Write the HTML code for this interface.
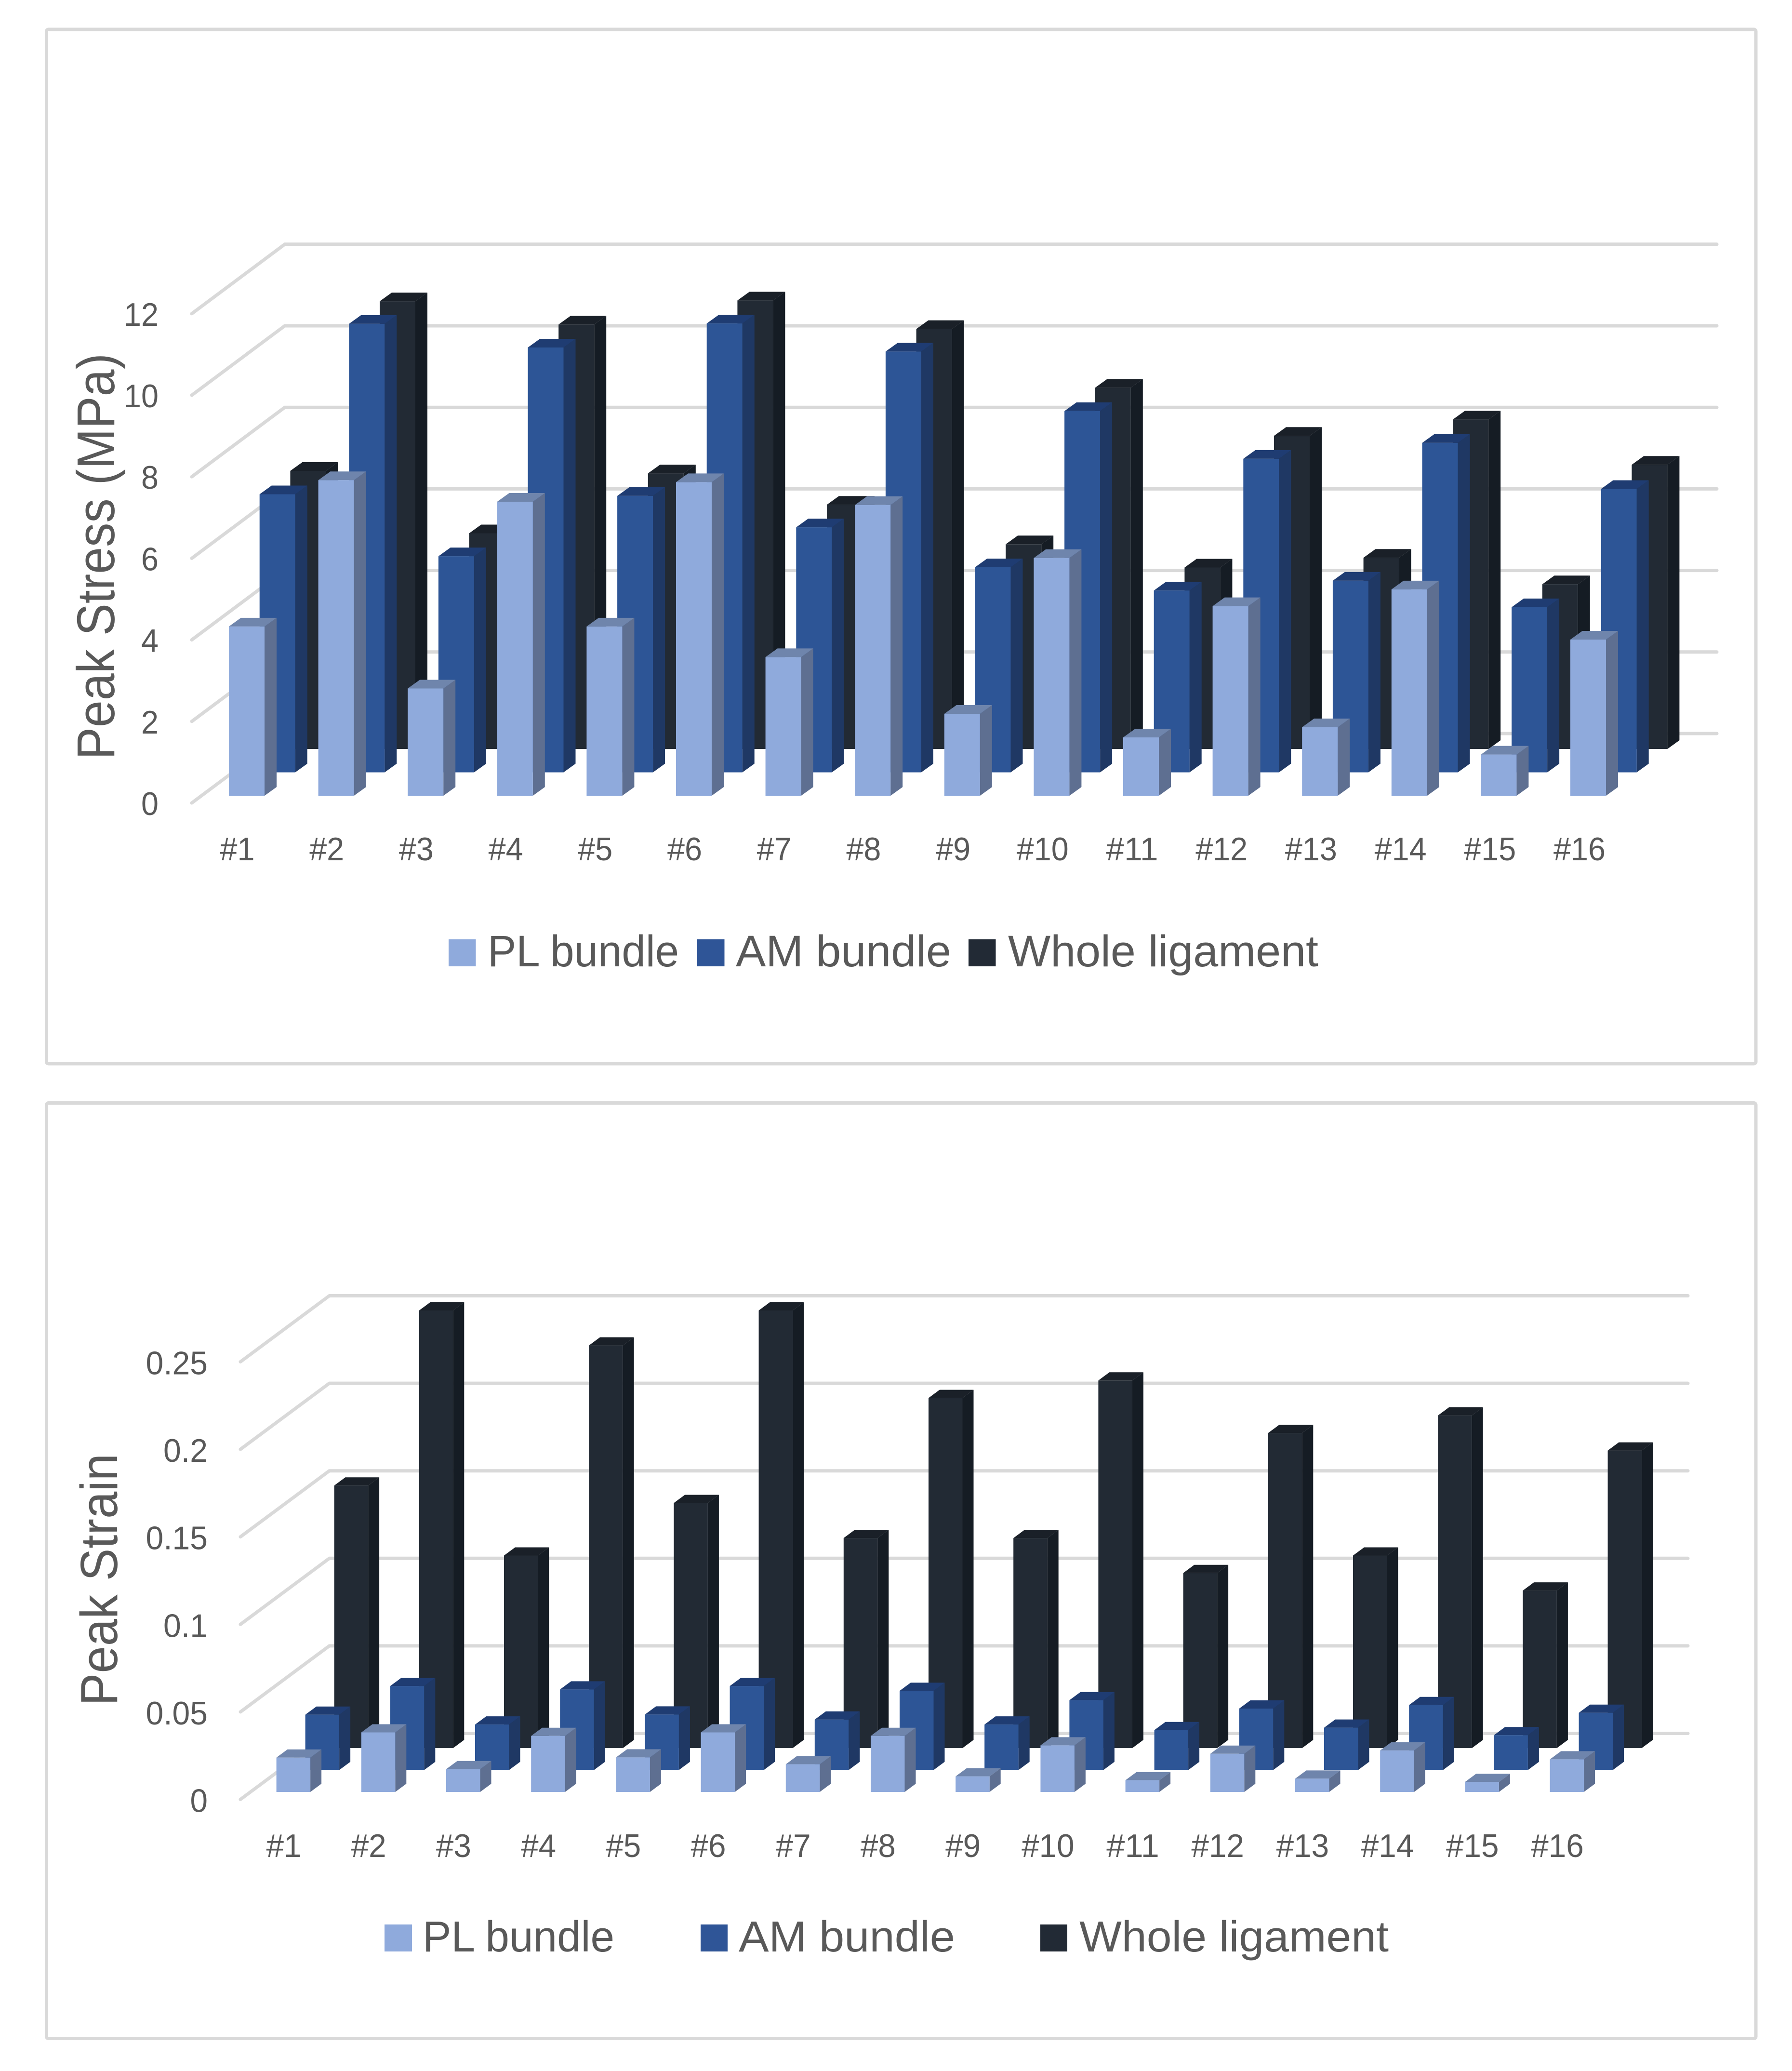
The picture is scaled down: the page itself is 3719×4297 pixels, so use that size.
<!DOCTYPE html>
<html lang="en">
<head>
<meta charset="utf-8">
<title>Peak Stress and Peak Strain by Specimen</title>
<style>
html,body{margin:0;padding:0;background:#ffffff;}
svg{display:block;}
text{font-family:"Liberation Sans",sans-serif;fill:#595959;}
</style>
</head>
<body>
<svg id="figure" xmlns="http://www.w3.org/2000/svg" width="3719" height="4297" viewBox="0 0 3719 4297">
  <rect x="0" y="0" width="3719" height="4297" fill="#ffffff"/>

  <g id="stress-chart">
    <rect x="96.5" y="61" width="3547.5" height="2146" rx="4" fill="#ffffff" stroke="#d9d9d9" stroke-width="7"/>
    <g id="stress-grid"></g>
    <g id="stress-bars"></g>
    <g id="stress-y-labels"></g>
    <g id="stress-x-labels"></g>
    <text transform="translate(237 1576) rotate(-90)" font-size="110" textLength="843" lengthAdjust="spacingAndGlyphs">Peak Stress (MPa)</text>
    <g>
      <g>
        <rect x="931" y="1949" width="56.5" height="56" fill="#8faadc"/>
        <text x="1012" y="2005" font-size="92" textLength="397" lengthAdjust="spacingAndGlyphs">PL bundle</text>
      </g>
      <g>
        <rect x="1447" y="1949" width="56.5" height="56" fill="#2f5597"/>
        <text x="1527" y="2005" font-size="92" textLength="447" lengthAdjust="spacingAndGlyphs">AM bundle</text>
      </g>
      <g>
        <rect x="2010" y="1949" width="56.5" height="56" fill="#222a35"/>
        <text x="2092" y="2005" font-size="92" textLength="644" lengthAdjust="spacingAndGlyphs">Whole ligament</text>
      </g>
    </g>
  </g>

  <g id="strain-chart">
    <rect x="96.5" y="2288.5" width="3547.5" height="1941" rx="4" fill="#ffffff" stroke="#d9d9d9" stroke-width="7"/>
    <g id="strain-grid"></g>
    <g id="strain-bars"></g>
    <g id="strain-y-labels"></g>
    <g id="strain-x-labels"></g>
    <text transform="translate(243 3539) rotate(-90)" font-size="109" textLength="523" lengthAdjust="spacingAndGlyphs">Peak Strain</text>
    <g>
      <g>
        <rect x="798" y="3993" width="57" height="56" fill="#8faadc"/>
        <text x="877" y="4049" font-size="90" textLength="398" lengthAdjust="spacingAndGlyphs">PL bundle</text>
      </g>
      <g>
        <rect x="1454" y="3993" width="56" height="56" fill="#2f5597"/>
        <text x="1533" y="4049" font-size="90" textLength="449" lengthAdjust="spacingAndGlyphs">AM bundle</text>
      </g>
      <g>
        <rect x="2159" y="3993" width="56" height="56" fill="#222a35"/>
        <text x="2240" y="4049" font-size="90" textLength="642" lengthAdjust="spacingAndGlyphs">Whole ligament</text>
      </g>
    </g>
  </g>
</svg>

<script>
// ---- Data ----
const categories = ['#1','#2','#3','#4','#5','#6','#7','#8','#9','#10','#11','#12','#13','#14','#15','#16'];

const stressTicks = [0, 2, 4, 6, 8, 10, 12];
const stressTickLabels = ['0', '2', '4', '6', '8', '10', '12'];
const stressPL = [4.15, 7.74, 2.63, 7.21, 4.15, 7.69, 3.40, 7.13, 2.01, 5.83, 1.43, 4.65, 1.68, 5.06, 1.01, 3.83];
const stressAM = [6.82, 11.00, 5.30, 10.42, 6.78, 11.01, 6.01, 10.32, 5.03, 8.86, 4.46, 7.69, 4.70, 8.08, 4.05, 6.95];
const stressWhole = [6.82, 10.98, 5.29, 10.41, 6.76, 11.00, 5.99, 10.30, 5.02, 8.86, 4.45, 7.68, 4.69, 8.08, 4.04, 6.97];

const strainTicks = [0, 0.05, 0.1, 0.15, 0.2, 0.25];
const strainTickLabels = ['0', '0.05', '0.1', '0.15', '0.2', '0.25'];
const strainPL = [0.0196, 0.034, 0.013, 0.032, 0.0197, 0.034, 0.0158, 0.032, 0.0089, 0.0266, 0.0067, 0.0218, 0.0076, 0.0237, 0.0057, 0.0186];
const strainAM = [0.0316, 0.048, 0.026, 0.046, 0.0317, 0.048, 0.0288, 0.0452, 0.026, 0.0399, 0.0228, 0.0351, 0.0242, 0.0371, 0.0199, 0.0327];
const strainWhole = [0.15, 0.25, 0.11, 0.23, 0.14, 0.25, 0.12, 0.20, 0.12, 0.21, 0.10, 0.18, 0.11, 0.19, 0.09, 0.17];

// ---- Rendering ----
const SVG_NS = 'http://www.w3.org/2000/svg';

function svgEl(tag, attrs) {
  const el = document.createElementNS(SVG_NS, tag);
  for (const k in attrs) el.setAttribute(k, attrs[k]);
  return el;
}

function labelWidth(text, unit) {
  let w = 0;
  for (const ch of text) w += (ch === '.') ? unit * 0.52 : unit;
  return w;
}

function pts(list) {
  return list.map(function (p) { return p[0].toFixed(1) + ',' + p[1].toFixed(1); }).join(' ');
}

const seriesStyles = {
  whole: { front: '#222a34', side: '#151c24', top: '#1a2028' },
  am: { front: '#2d5596', side: '#1f3864', top: '#1f3c72' },
  pl: { front: '#8faadc', side: '#5e6f91', top: '#6f85ac' }
};

function drawChart(cfg) {
  // axis functions
  const yFront = function (v) { return cfg.front0 - v * cfg.unit; };
  const barX = function (i, depth) { return cfg.barX0 + i * cfg.step + depth * cfg.seriesDx; };
  const barBase = function (depth) { return cfg.barBase - depth * cfg.seriesDy; };
  const labelX = function (i) { return cfg.labelX0 + i * cfg.labelStep; };

  const grid = document.getElementById(cfg.key + '-grid');
  cfg.ticks.forEach(function (t, k) {
    const yF = yFront(t);
    const xB = cfg.frontX + cfg.backDx;
    const yB = yF - cfg.backDy;
    const line = svgEl('polyline', {
      points: pts([[cfg.frontX, yF], [xB, yB], [cfg.rightX, yB]]),
      fill: 'none', stroke: '#d9d9d9', 'stroke-width': cfg.gridWidth, 'stroke-linecap': 'round', 'stroke-linejoin': 'round'
    });
    
    
    grid.appendChild(line);
  });

  const barsRoot = document.getElementById(cfg.key + '-bars');
  cfg.series.forEach(function (s) {
    const style = seriesStyles[s.id];
    const group = svgEl('g', {});
    
    
    s.values.forEach(function (v, i) {
      const x = barX(i, s.depth);
      const base = barBase(s.depth);
      const top = base - v * cfg.unit;
      const x2 = x + cfg.barW;
      const dx = cfg.sideDx;
      const dy = cfg.sideDy;

      const bar = svgEl('g', {});
      
      

      const side = svgEl('polygon', { points: pts([[x2, base], [x2 + dx, base - dy], [x2 + dx, top - dy], [x2, top]]), fill: style.side });
      
      
      bar.appendChild(side);

      const cap = svgEl('polygon', { points: pts([[x, top], [x + dx, top - dy], [x2 + dx, top - dy], [x2, top]]), fill: style.top });
      
      
      bar.appendChild(cap);

      const face = svgEl('rect', { x: x.toFixed(1), y: top.toFixed(1), width: cfg.barW, height: (base - top).toFixed(1), fill: style.front });
      
      
      bar.appendChild(face);

      group.appendChild(bar);
    });
    barsRoot.appendChild(group);
  });

  const yLabels = document.getElementById(cfg.key + '-y-labels');
  cfg.tickLabels.forEach(function (label, k) {
    const w = labelWidth(label, cfg.charW);
    const t = svgEl('text', {
      x: (cfg.yLabelRight - w).toFixed(1), y: (yFront(cfg.ticks[k]) + cfg.yLabelDrop).toFixed(1),
      'font-size': cfg.labelSize, textLength: w.toFixed(1), lengthAdjust: 'spacingAndGlyphs'
    });
    t.textContent = label;
    
    
    yLabels.appendChild(t);
  });

  const xLabels = document.getElementById(cfg.key + '-x-labels');
  categories.forEach(function (label, i) {
    const w = labelWidth(label, cfg.charW);
    const t = svgEl('text', {
      x: (labelX(i) - w / 2).toFixed(1), y: cfg.xLabelY,
      'font-size': cfg.labelSize, textLength: w.toFixed(1), lengthAdjust: 'spacingAndGlyphs'
    });
    t.textContent = label;
    
    
    xLabels.appendChild(t);
  });
}

drawChart({
  key: 'stress',
  ticks: stressTicks,
  tickLabels: stressTickLabels,
  series: [
    { id: 'whole', depth: 2, values: stressWhole },
    { id: 'am', depth: 1, values: stressAM },
    { id: 'pl', depth: 0, values: stressPL }
  ],
  unit: 84.6,
  front0: 1666,
  frontX: 398,
  backDx: 193,
  backDy: 144,
  rightX: 3563,
  gridWidth: 7,
  barX0: 475,
  barBase: 1651,
  step: 185.6,
  seriesDx: 63.7,
  seriesDy: 48.5,
  barW: 74,
  sideDx: 25,
  sideDy: 18,
  labelSize: 68,
  charW: 36,
  yLabelRight: 329,
  yLabelDrop: 25,
  labelX0: 492.5,
  labelStep: 185.7,
  xLabelY: 1785
});

drawChart({
  key: 'strain',
  ticks: strainTicks,
  tickLabels: strainTickLabels,
  series: [
    { id: 'whole', depth: 2, values: strainWhole },
    { id: 'am', depth: 1, values: strainAM },
    { id: 'pl', depth: 0, values: strainPL }
  ],
  unit: 3632,
  front0: 3733.5,
  frontX: 499,
  backDx: 184.5,
  backDy: 137,
  rightX: 3503,
  gridWidth: 7,
  barX0: 573.6,
  barBase: 3718,
  step: 176.2,
  seriesDx: 60,
  seriesDy: 45.5,
  barW: 70.5,
  sideDx: 23,
  sideDy: 17,
  labelSize: 68,
  charW: 36.5,
  yLabelRight: 431,
  yLabelDrop: 26,
  labelX0: 589,
  labelStep: 176.2,
  xLabelY: 3853
});
</script>
</body>
</html>
